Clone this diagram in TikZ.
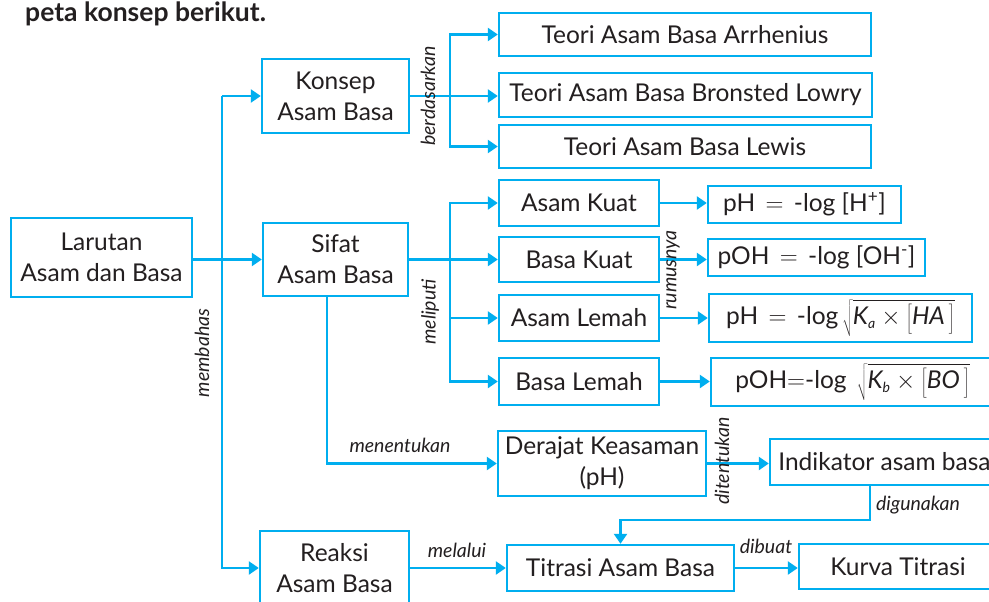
\documentclass[tikz,border=0pt]{standalone}
\usepackage{fontspec}
\setmainfont{Lato}
\usetikzlibrary{arrows.meta}
\definecolor{cy}{HTML}{00AEEF}
\definecolor{tx}{HTML}{231F20}
\newcommand\mysub[1]{_{\hbox{\fontsize{14}{14}\selectfont\itshape #1}}}
\newcommand\mybrk[1]{\left[\rule[-8pt]{0pt}{28pt}\hbox{\itshape #1\,}\right]}
\begin{document}
\begin{tikzpicture}[x=1pt,y=-1pt,
  box/.style={draw=cy, line width=2.4pt, text=tx, align=center, inner sep=0pt,
    font=\fontsize{24.5}{31}\selectfont},
  arr/.style={draw=cy, line width=2.4pt, -{Triangle[length=10pt,width=13pt]}},
  ln/.style={draw=cy, line width=2.4pt},
  lbl/.style={text=tx, font=\fontsize{19.5}{21}\selectfont\itshape, inner sep=0pt},
]
\fill[white] (0,0) rectangle (989,602);
\clip (0,0) rectangle (989,602);
% title
\node[text=tx, anchor=base west, inner sep=0pt, font=\fontsize{26.5}{30}\selectfont\bfseries] (title) at (25,22) {peta konsep berikut.};
% boxes
\node[box, minimum width=181pt, minimum height=79pt] (L) at (101.5,257.5) {Larutan\\Asam dan Basa};
\node[box, minimum width=147pt, minimum height=74pt] (K) at (335.5,96) {Konsep\\Asam Basa};
\node[box, minimum width=145pt, minimum height=73pt] (S) at (335.5,259.5) {Sifat\\Asam Basa};
\node[box, minimum width=149pt, minimum height=74pt] (R) at (334.5,568) {Reaksi\\Asam Basa};
\node[box, minimum width=372pt, minimum height=43pt] (A1) at (685,34.5) {Teori Asam Basa Arrhenius};
\node[box, minimum width=373pt, minimum height=44pt] (A2) at (685.5,95) {Teori Asam Basa Bronsted Lowry};
\node[box, minimum width=372pt, minimum height=43pt] (A3) at (685,146.5) {Teori Asam Basa Lewis};
\node[box, minimum width=160pt, minimum height=46pt] (AK) at (579,203) {Asam Kuat};
\node[box, minimum width=160pt, minimum height=45pt] (BK) at (579,259.5) {Basa Kuat};
\node[box, minimum width=160pt, minimum height=46pt] (AL) at (579,318) {Asam Lemah};
\node[box, minimum width=160pt, minimum height=47pt] (BL) at (579,381.5) {Basa Lemah};
\node[box, minimum width=193pt, minimum height=37pt] (F1) at (804.5,204.5) {pH \,$=$\, -log [H\textsuperscript{+}]};
\node[box, minimum width=217pt, minimum height=37pt] (F2) at (816.5,257.5) {pOH \,$=$\, -log [OH\textsuperscript{-}]};
\node[box, minimum width=263pt, minimum height=48pt] (F3) at (840.5,318) {pH \,$=$\, -log\,$\sqrt{\hbox{\itshape K}\mysub{a}\times\mybrk{HA}}$};
\node[box, minimum width=283pt, minimum height=48pt] (F4) at (852.5,382) {pOH$=$-log\, $\sqrt{\hbox{\itshape K}\mysub{b}\times\mybrk{BO}}$};
\node[box, minimum width=208pt, minimum height=65pt] (D) at (602,463.5) {Derajat Keasaman\\(pH)};
\node[box, minimum width=229pt, minimum height=46pt] (I) at (884.5,462) {Indikator asam basa};
\node[box, minimum width=227pt, minimum height=46pt] (T) at (620.5,568) {Titrasi Asam Basa};
\node[box, minimum width=198pt, minimum height=45pt] (Ku) at (898,566.5) {Kurva Titrasi};
% junctions
\coordinate (mb) at (222,96);
\coordinate (bd) at (450,96);
\coordinate (ml) at (450,259.5);
\coordinate (sd) at ([xshift=-8.5pt]S.south);
\coordinate (ig) at (870,520);
% connectors
\draw[arr] (S.west -| L.east) -- (S.west);
\draw[arr] (mb) -- (K.west);
\draw[arr] (mb) |- (R.west);
\draw[ln] (K.east) -- (bd);
\draw[arr] (bd) |- (A1.west);
\draw[arr] (bd) -- (A2.west |- bd);
\draw[arr] (bd) |- (A3.west);
\draw[ln] (S.east) -- (ml);
\draw[arr] (ml) |- (AK.west);
\draw[arr] (ml) -- (BK.west);
\draw[arr] (ml) |- (AL.west);
\draw[arr] (ml) |- (BL.west);
\draw[arr] (AK.east) -- (F1.west |- AK.east);
\draw[arr] (BK.east) -- (F2.west |- BK.east);
\draw[arr] (AL.east) -- (F3.west |- AL.east);
\draw[arr] (BL.east) -- (F4.west |- BL.east);
\draw[arr] (sd) |- (D.west);
\draw[arr] (D.east) -- (I.west |- D.east);
\draw[arr] (ig |- I.south) -- (ig) -| (T.north);
\draw[arr] (R.east) -- (T.west |- R.east);
\draw[arr] (T.east) -- (Ku.west |- T.east);
% labels
\node[lbl, rotate=90] (l1) at (428,96) {berdasarkan};
\node[lbl, rotate=90] (l2) at (202,353) {membahas};
\node[lbl, rotate=90] (l3) at (430,312) {meliputi};
\node[lbl, rotate=90] (l4) at (673,270) {rumusnya};
\node[lbl, rotate=90] (l5) at (722,461) {ditentukan};
\node[lbl] (l6) at (400,445) {menentukan};
\node[lbl] (l7) at (918,505) {digunakan};
\node[lbl] (l8) at (457,550) {melalui};
\node[lbl] (l9) at (766,546) {dibuat};
\end{tikzpicture}
\end{document}
